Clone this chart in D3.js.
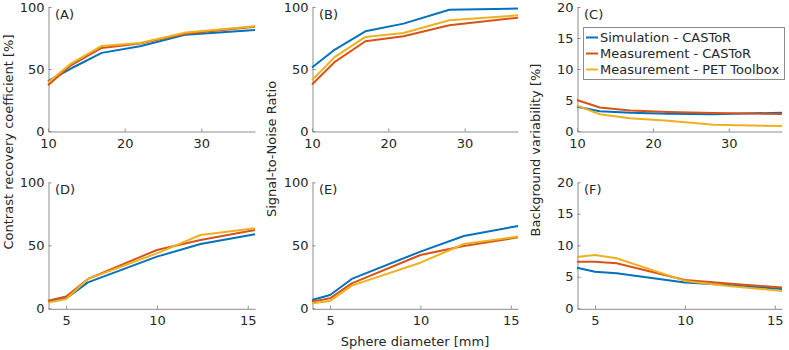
<!DOCTYPE html>
<html>
<head>
<meta charset="utf-8">
<script src="https://cdn.jsdelivr.net/npm/d3@7"></script>
<style>
  body { margin: 0; background: #fff; }
  text { font-family: "DejaVu Sans", sans-serif; }
</style>
</head>
<body>
<div id="chart"></div>
<script>
// sphere diameters [mm]
var topSizes = [10, 13, 17, 22, 28, 37];
var bottomSizes = [4, 5, 6.2, 10, 12.4, 15.4];

var seriesNames = ["Simulation - CASToR", "Measurement - CASToR", "Measurement - PET Toolbox"];
var colors = ["#0072BD", "#D95319", "#EDB120"];

// values: [simulation, measurement CASToR, measurement PET toolbox]
var crcTop = [
  [40.2, 50.4, 63, 68.4, 77.7, 81.5],
  [37, 53, 67, 70.5, 78.5, 84],
  [39, 54.4, 68.6, 71, 79.4, 84.5]
];
var snrTop = [
  [51.2, 65.7, 80.4, 86.6, 97.8, 98.7],
  [37.5, 55.8, 72.4, 76.4, 85.3, 91.4],
  [41, 59.8, 75.9, 79, 89.3, 93.3]
];
var bvTop = [
  [3.9, 3.2, 2.95, 2.8, 2.7, 2.95],
  [5.0, 3.8, 3.3, 3.05, 2.9, 2.75],
  [4.1, 2.7, 2.05, 1.65, 1.0, 0.8]
];
var crcBottom = [
  [5.3, 7.9, 20.6, 41, 51, 58.7],
  [6, 9.3, 23.3, 46.3, 54.2, 62.2],
  [4.5, 7.4, 23.3, 43.6, 58.2, 63.5]
];
var snrBottom = [
  [6.6, 10.6, 23.3, 45, 57.4, 65.3],
  [5.3, 7.9, 19.8, 42.3, 49.5, 56.3],
  [4, 5.8, 18, 36.2, 51, 56.9]
];
var bvBottom = [
  [6.45, 5.8, 5.55, 4.1, 3.7, 3.05],
  [7.4, 7.4, 7.15, 4.5, 3.95, 3.3],
  [8.15, 8.45, 7.95, 4.35, 3.55, 2.75]
];

var topTicks = [10, 20, 30];
var bottomTicks = [5, 10, 15];
var pctTicks = [0, 50, 100];
var bvTicks = [0, 5, 10, 15, 20];

var width = 789, height = 350;

var svg = d3.select("#chart").append("svg")
    .attr("width", width)
    .attr("height", height);

var cols = [{x0: 48, x1: 255}, {x0: 312, x1: 518}, {x0: 577, x1: 782}];
var rows = [{y0: 131, y1: 7}, {y0: 308.3, y1: 182.3}];

var panels = [
  {label: "(A)", col: 0, row: 0, xs: topSizes, xd: [10, 37], xt: topTicks, yd: [0, 100], yt: pctTicks, data: crcTop},
  {label: "(B)", col: 1, row: 0, xs: topSizes, xd: [10, 37], xt: topTicks, yd: [0, 100], yt: pctTicks, data: snrTop},
  {label: "(C)", col: 2, row: 0, xs: topSizes, xd: [10, 37], xt: topTicks, yd: [0, 20], yt: bvTicks, data: bvTop},
  {label: "(D)", col: 0, row: 1, xs: bottomSizes, xd: [4, 15.4], xt: bottomTicks, yd: [0, 100], yt: pctTicks, data: crcBottom},
  {label: "(E)", col: 1, row: 1, xs: bottomSizes, xd: [4, 15.4], xt: bottomTicks, yd: [0, 100], yt: pctTicks, data: snrBottom},
  {label: "(F)", col: 2, row: 1, xs: bottomSizes, xd: [4, 15.4], xt: bottomTicks, yd: [0, 20], yt: bvTicks, data: bvBottom}
];

panels.forEach(function(p) {
  var c = cols[p.col], r = rows[p.row];
  var x = d3.scaleLinear().domain(p.xd).range([c.x0, c.x1]);
  var y = d3.scaleLinear().domain(p.yd).range([r.y0, r.y1]);

  var g = svg.append("g");

  // x axis (ticks pointing inward)
  var xAxis = g.append("g")
      .attr("transform", "translate(0," + (r.y0 + 0.5) + ")")
      .call(d3.axisBottom(x).tickValues(p.xt).tickSize(-3).tickSizeOuter(0).tickPadding(7));
  var yAxis = g.append("g")
      .attr("transform", "translate(" + (c.x0 + 0.5) + ",0)")
      .call(d3.axisLeft(y).tickValues(p.yt).tickSize(-3).tickSizeOuter(0).tickPadding(4));

  [xAxis, yAxis].forEach(function(a) {
    a.select(".domain").attr("stroke", "#8c8c8c");
    a.selectAll(".tick line").attr("stroke", "#8c8c8c");
    a.selectAll(".tick text")
      .attr("fill", "#262626")
      .style("font-size", "13px")
      .style("font-family", "DejaVu Sans, sans-serif");
  });

  var line = d3.line()
      .x(function(d, i) { return x(p.xs[i]); })
      .y(function(d) { return y(d); });

  p.data.forEach(function(s, i) {
    g.append("path")
      .datum(s)
      .attr("fill", "none")
      .attr("stroke", colors[i])
      .attr("stroke-width", 2)
      .attr("stroke-linejoin", "round")
      .attr("d", line);
  });

  g.append("text")
    .attr("x", c.x0 + 7)
    .attr("y", r.y1 + 11.5)
    .attr("fill", "#262626")
    .style("font-size", "13px")
    .text(p.label);
});

// axis titles
function yTitle(txt, bx, cy) {
  svg.append("text")
    .attr("transform", "translate(" + bx + "," + cy + ") rotate(-90)")
    .attr("text-anchor", "middle")
    .attr("fill", "#262626")
    .style("font-size", "13px")
    .text(txt);
}
yTitle("Contrast recovery coefficient [%]", 13, 142);
yTitle("Signal-to-Noise Ratio", 276, 149);
yTitle("Background variability [%]", 540, 150);

svg.append("text")
  .attr("x", 415)
  .attr("y", 346)
  .attr("text-anchor", "middle")
  .attr("fill", "#262626")
  .style("font-size", "13px")
  .text("Sphere diameter [mm]");

// legend
var leg = svg.append("g");
leg.append("rect")
  .attr("x", 583.5).attr("y", 27.5)
  .attr("width", 201).attr("height", 52)
  .attr("fill", "#fff")
  .attr("stroke", "#8c8c8c");

seriesNames.forEach(function(n, i) {
  var ly = 37.5 + i * 16;
  leg.append("line")
    .attr("x1", 586).attr("x2", 598)
    .attr("y1", ly).attr("y2", ly)
    .attr("stroke", colors[i])
    .attr("stroke-width", 2);
  leg.append("text")
    .attr("x", 600)
    .attr("y", ly)
    .attr("dy", "0.35em")
    .attr("fill", "#262626")
    .style("font-size", "13px")
    .text(n);
});
</script>
</body>
</html>
